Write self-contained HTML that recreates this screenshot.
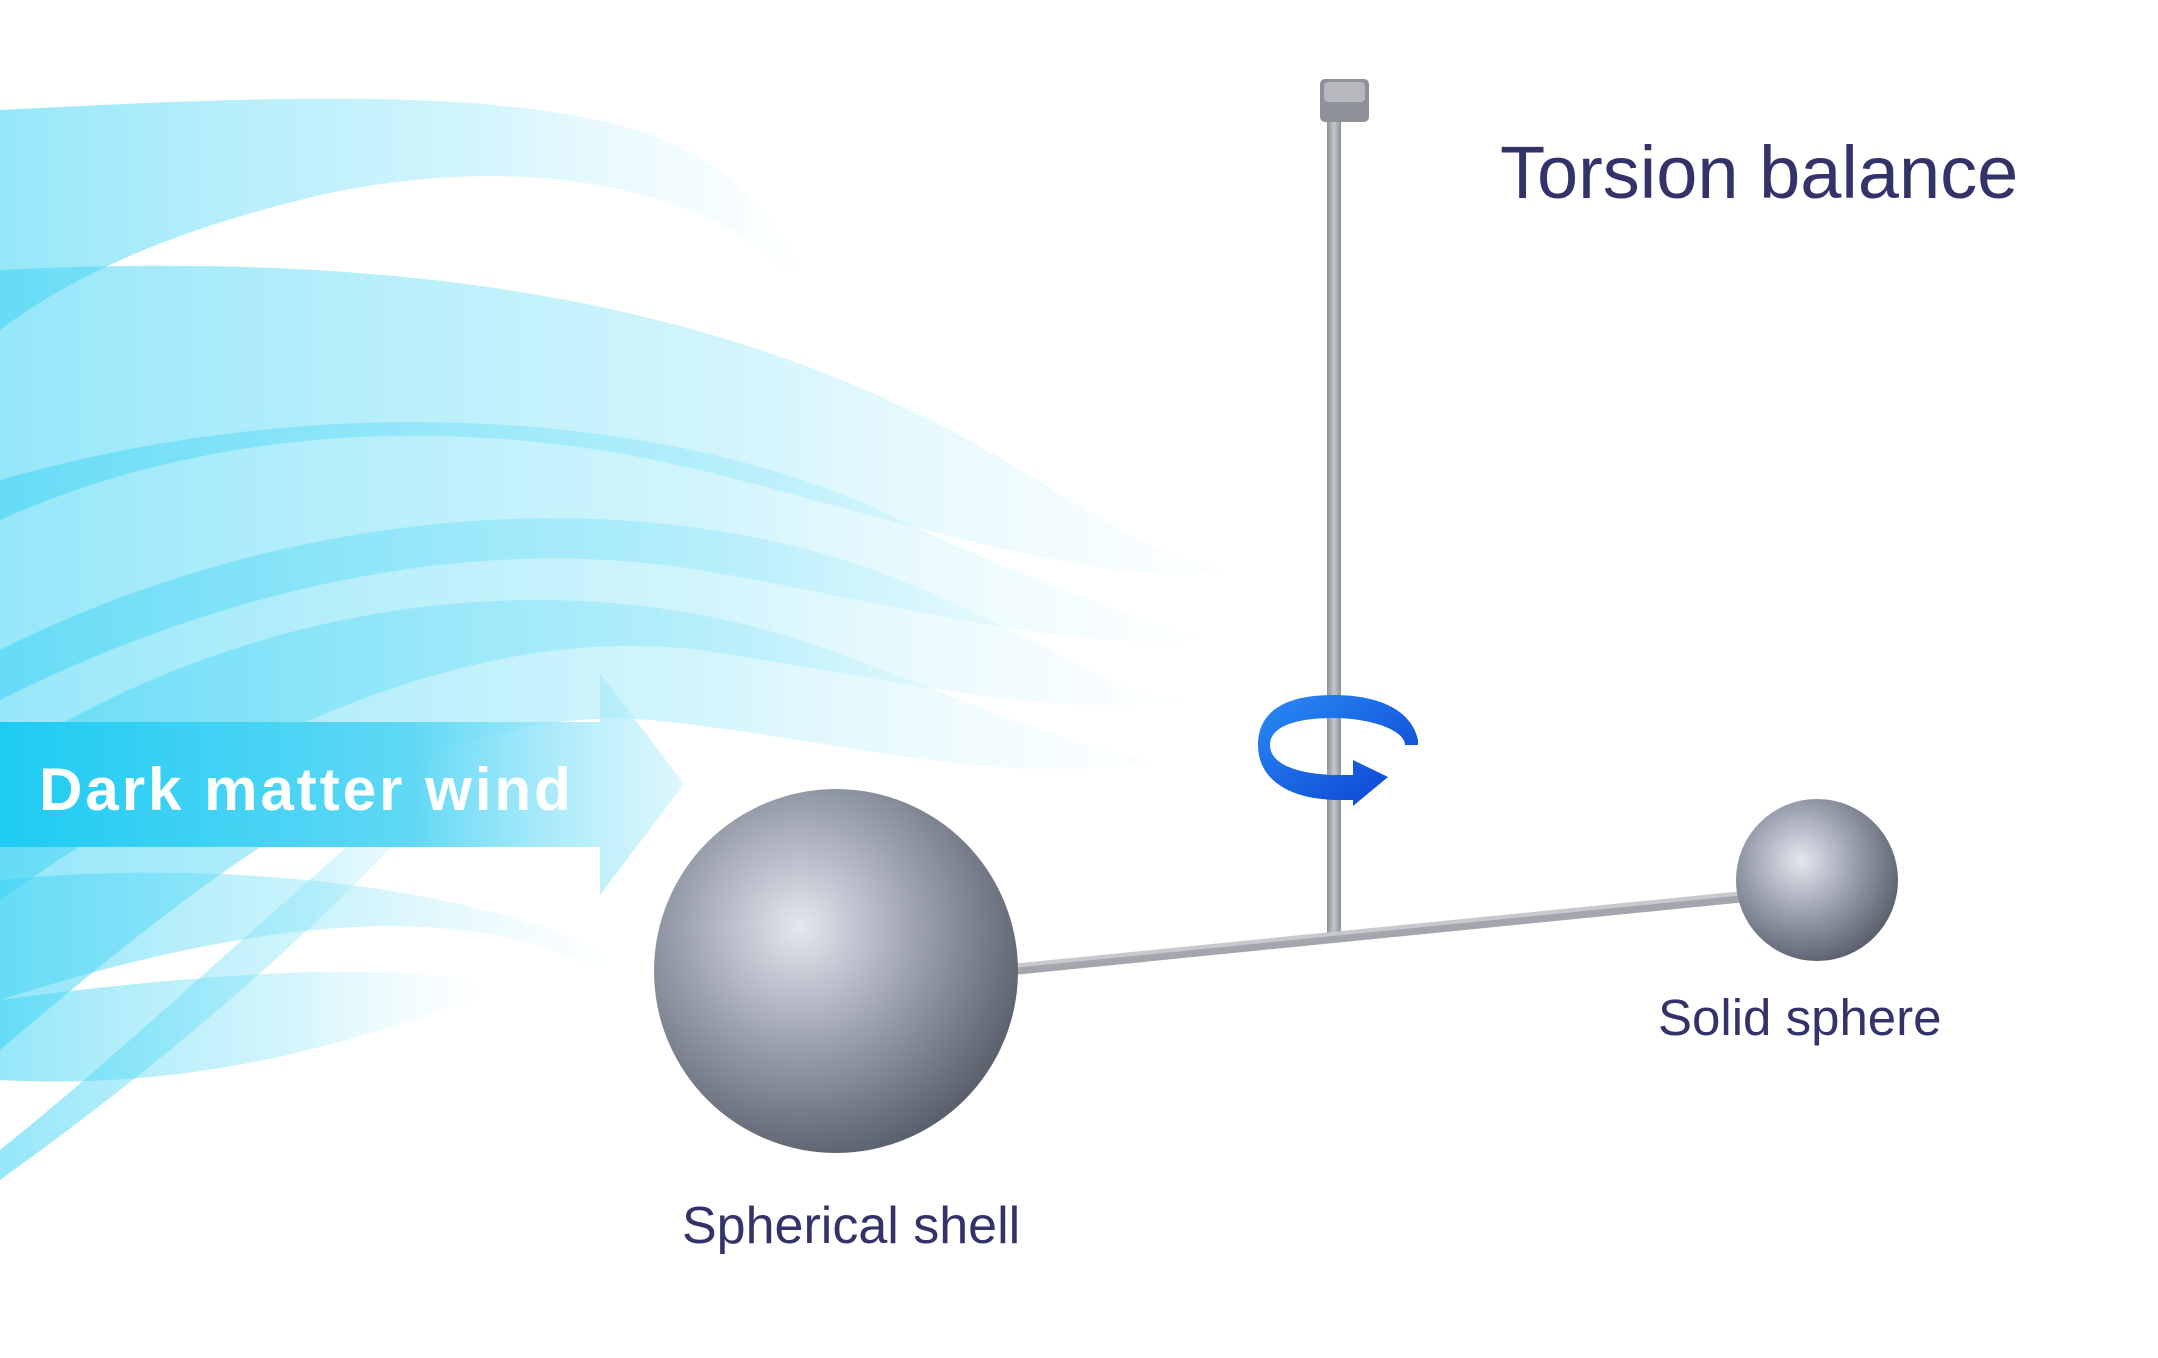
<!DOCTYPE html>
<html><head><meta charset="utf-8"><style>
html,body{margin:0;padding:0;background:#fff;}
svg{display:block;}
</style></head><body>
<svg width="2158" height="1358" viewBox="0 0 2158 1358" xmlns="http://www.w3.org/2000/svg">
<defs>
<linearGradient id="w" x1="0" y1="0" x2="1" y2="0">
<stop offset="0" stop-color="#3fd3f4" stop-opacity="0.55"/>
<stop offset="0.6" stop-color="#7fe2f8" stop-opacity="0.35"/>
<stop offset="1" stop-color="#c8f3fc" stop-opacity="0.05"/>
</linearGradient>
<linearGradient id="ar" x1="0" y1="0" x2="1" y2="0">
<stop offset="0" stop-color="#1ecbf2"/>
<stop offset="0.6" stop-color="#5fd8f5"/>
<stop offset="1" stop-color="#c9f2fc" stop-opacity="0.6"/>
</linearGradient>
<radialGradient id="s1" cx="0.4" cy="0.38" r="0.65">
<stop offset="0" stop-color="#e4e7ef"/>
<stop offset="0.5" stop-color="#9ca1b0"/>
<stop offset="1" stop-color="#5a606c"/>
</radialGradient>
<linearGradient id="rod" x1="0" y1="0" x2="1" y2="0">
<stop offset="0" stop-color="#8e9099"/><stop offset="0.5" stop-color="#c4c6cc"/><stop offset="1" stop-color="#8e9099"/>
</linearGradient>
<linearGradient id="ring" x1="0" y1="0" x2="1" y2="1">
<stop offset="0" stop-color="#2a8cf5"/><stop offset="1" stop-color="#0a3fd0"/>
</linearGradient>
</defs>
<g fill="url(#w)">
<path d="M0 110 C300 95 600 80 720 170 C780 220 810 280 790 275 C700 180 500 150 300 200 C180 230 80 270 0 330 Z"/>
<path d="M0 270 C400 250 700 300 950 430 C1080 500 1150 560 1230 570 C1100 590 900 520 700 470 C450 410 200 430 0 520 Z"/>
<path d="M0 480 C350 380 700 420 900 520 C1050 590 1150 620 1200 640 C1050 650 880 600 700 570 C450 530 200 600 0 700 Z"/>
<path d="M0 650 C300 500 650 480 900 580 C1050 640 1120 700 1190 700 C1050 720 900 680 700 650 C450 620 200 760 0 900 Z"/>
<path d="M0 760 C250 600 550 560 800 640 C950 690 1060 750 1160 760 C1000 790 850 740 650 720 C420 700 200 880 0 1050 Z"/>
<path d="M0 880 C200 860 450 880 600 950 C620 965 605 975 590 965 C450 900 250 920 0 1000 Z"/>
<path d="M0 1000 C150 980 350 960 470 980 C490 990 470 1010 455 1005 C330 1050 180 1090 0 1080 Z"/>
<path d="M0 1150 C150 1030 300 880 520 700 C400 850 250 1000 0 1180 Z"/>
</g>
<path d="M0 722 L600 722 L600 673 L684 784 L600 895 L600 847 L0 847 Z" fill="url(#ar)"/>
<text x="39" y="810" font-family="Liberation Sans, sans-serif" font-weight="bold" font-size="60" fill="#fff" letter-spacing="3">Dark matter wind</text>
<rect x="1327" y="120" width="14" height="820" fill="url(#rod)"/>
<rect x="1320" y="79" width="49" height="43" rx="5" fill="#8f9198"/>
<rect x="1324" y="82" width="41" height="20" rx="4" fill="#b6b8bd"/>
<path d="M1012 964 L1765 889 L1766 900 L1013 975 Z" fill="#a4a6ae"/>
<path d="M1012 964 L1765 889 L1765 893 L1012 968 Z" fill="#c7c9ce"/>
<circle cx="836" cy="971" r="182" fill="url(#s1)"/>
<circle cx="1817" cy="880" r="81" fill="url(#s1)"/>
<g>
<path d="M1418 740 C1410 705 1370 695 1333 695 C1280 695 1258 715 1258 745 C1258 780 1290 800 1340 800 L1353 800 L1353 806 L1388 777 L1353 760 L1353 775 L1340 775 C1300 775 1270 765 1270 745 C1270 725 1300 718 1333 718 C1370 718 1405 730 1405 745 L1418 745 Z" fill="url(#ring)"/>
<rect x="1327" y="720" width="14" height="55" fill="url(#rod)"/>
</g>
<text x="1500" y="198" font-family="Liberation Sans, sans-serif" font-size="74" fill="#33336a">Torsion balance</text>
<text x="1658" y="1035" font-family="Liberation Sans, sans-serif" font-size="51" fill="#33336a">Solid sphere</text>
<text x="682" y="1243" font-family="Liberation Sans, sans-serif" font-size="52" fill="#33336a">Spherical shell</text>
</svg>
</body></html>
